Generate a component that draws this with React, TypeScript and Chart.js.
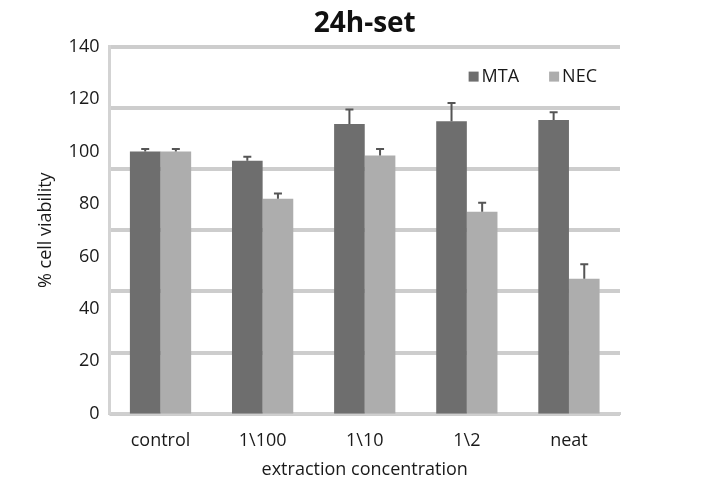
import React, { useEffect, useRef } from "react";
import { Chart, registerables } from "chart.js";

Chart.register(...registerables);

const categories = ["control", "1\\100", "1\\10", "1\\2", "neat"];
const mtaValues = [100, 96.5, 110.5, 111.5, 112];
const mtaErrors = [1, 1.5, 5.5, 7, 3];
const necValues = [100, 82, 98.5, 77, 51.5];
const necErrors = [1, 2, 2.5, 3.5, 5.5];
const seriesNames = ["MTA", "NEC"];
const seriesColors = ["#6e6e6e", "#adadad"];

const FONT = "'Open Sans', 'DejaVu Sans', sans-serif";

const errorBarPlugin = {
  id: "errorBars",
  afterDatasetsDraw(chart: any) {
    const ctx = chart.ctx;
    const yScale = chart.scales.y;
    const errs = [mtaErrors, necErrors];
    const vals = [mtaValues, necValues];
    ctx.save();
    ctx.strokeStyle = "#555555";
    ctx.lineWidth = 2;
    chart.data.datasets.forEach((_ds: any, di: number) => {
      const meta = chart.getDatasetMeta(di);
      meta.data.forEach((bar: any, i: number) => {
        const x = bar.x;
        const yTop = yScale.getPixelForValue(vals[di][i] + errs[di][i]);
        const yBase = yScale.getPixelForValue(vals[di][i]);
        ctx.beginPath();
        ctx.moveTo(x, yBase);
        ctx.lineTo(x, yTop);
        ctx.moveTo(x - 4, yTop);
        ctx.lineTo(x + 4, yTop);
        ctx.stroke();
      });
    });
    ctx.restore();
  },
};

const insideLegendPlugin = {
  id: "insideLegend",
  afterDatasetsDraw(chart: any) {
    const ctx = chart.ctx;
    const area = chart.chartArea;
    ctx.save();
    ctx.font = `18px ${FONT}`;
    ctx.textBaseline = "middle";
    ctx.textAlign = "left";
    const yc = area.top + 30;
    let right = area.right - 23;
    for (let i = seriesNames.length - 1; i >= 0; i--) {
      const w = ctx.measureText(seriesNames[i]).width;
      const tx = right - w;
      ctx.fillStyle = "#1a1a1a";
      ctx.fillText(seriesNames[i], tx, yc);
      ctx.fillStyle = seriesColors[i];
      ctx.fillRect(tx - 13, yc - 5, 10, 10);
      right = tx - 13 - 30;
    }
    ctx.restore();
  },
};

export default function App() {
  const ref = useRef<HTMLCanvasElement>(null);
  useEffect(() => {
    document.body.style.margin = "0";
    const chart = new Chart(ref.current as HTMLCanvasElement, {
      type: "bar",
      data: {
        labels: categories,
        datasets: [
          {
            label: seriesNames[0],
            data: mtaValues,
            backgroundColor: seriesColors[0],
            yAxisID: "y",
            categoryPercentage: 0.6,
            barPercentage: 1.0,
          },
          {
            label: seriesNames[1],
            data: necValues,
            backgroundColor: seriesColors[1],
            yAxisID: "y",
            categoryPercentage: 0.6,
            barPercentage: 1.0,
          },
        ],
      },
      options: {
        responsive: false,
        animation: false,
        layout: { padding: { left: 35, right: 89, top: 7, bottom: 20 } },
        plugins: {
          title: {
            display: true,
            fullSize: false,
            text: "24h-set",
            color: "#111111",
            font: { family: FONT, size: 28, weight: "bold" },
            padding: { top: 0, bottom: 6 },
          },
          legend: { display: false },
          tooltip: { enabled: false },
        },
        scales: {
          x: {
            grid: { display: false },
            border: { display: true, color: "#cfcfcf", width: 3 },
            ticks: { color: "#1a1a1a", font: { family: FONT, size: 18 }, padding: 8 },
            title: {
              display: true,
              text: "extraction concentration",
              color: "#1a1a1a",
              font: { family: FONT, size: 18 },
              padding: { top: 0, bottom: 0 },
            },
          },
          y: {
            position: "left",
            min: 0,
            max: 140,
            ticks: { stepSize: 20, color: "#1a1a1a", font: { family: FONT, size: 18 }, padding: 10 },
            grid: { display: false, drawTicks: false },
            border: { display: true, color: "#d3d3d3", width: 3 },
            title: {
              display: true,
              text: "% cell viability",
              color: "#1a1a1a",
              font: { family: FONT, size: 18 },
              padding: { top: 0, bottom: 2 },
            },
          },
          y2: {
            position: "right",
            min: 0,
            max: 6,
            ticks: { display: false, stepSize: 1 },
            grid: { color: "#cdcdcd", lineWidth: 4, drawTicks: false },
            border: { display: false },
          },
        },
      },
      plugins: [errorBarPlugin, insideLegendPlugin],
    } as any);
    return () => chart.destroy();
  }, []);
  return <canvas ref={ref} width={709} height={501} style={{ display: "block" }} />;
}
